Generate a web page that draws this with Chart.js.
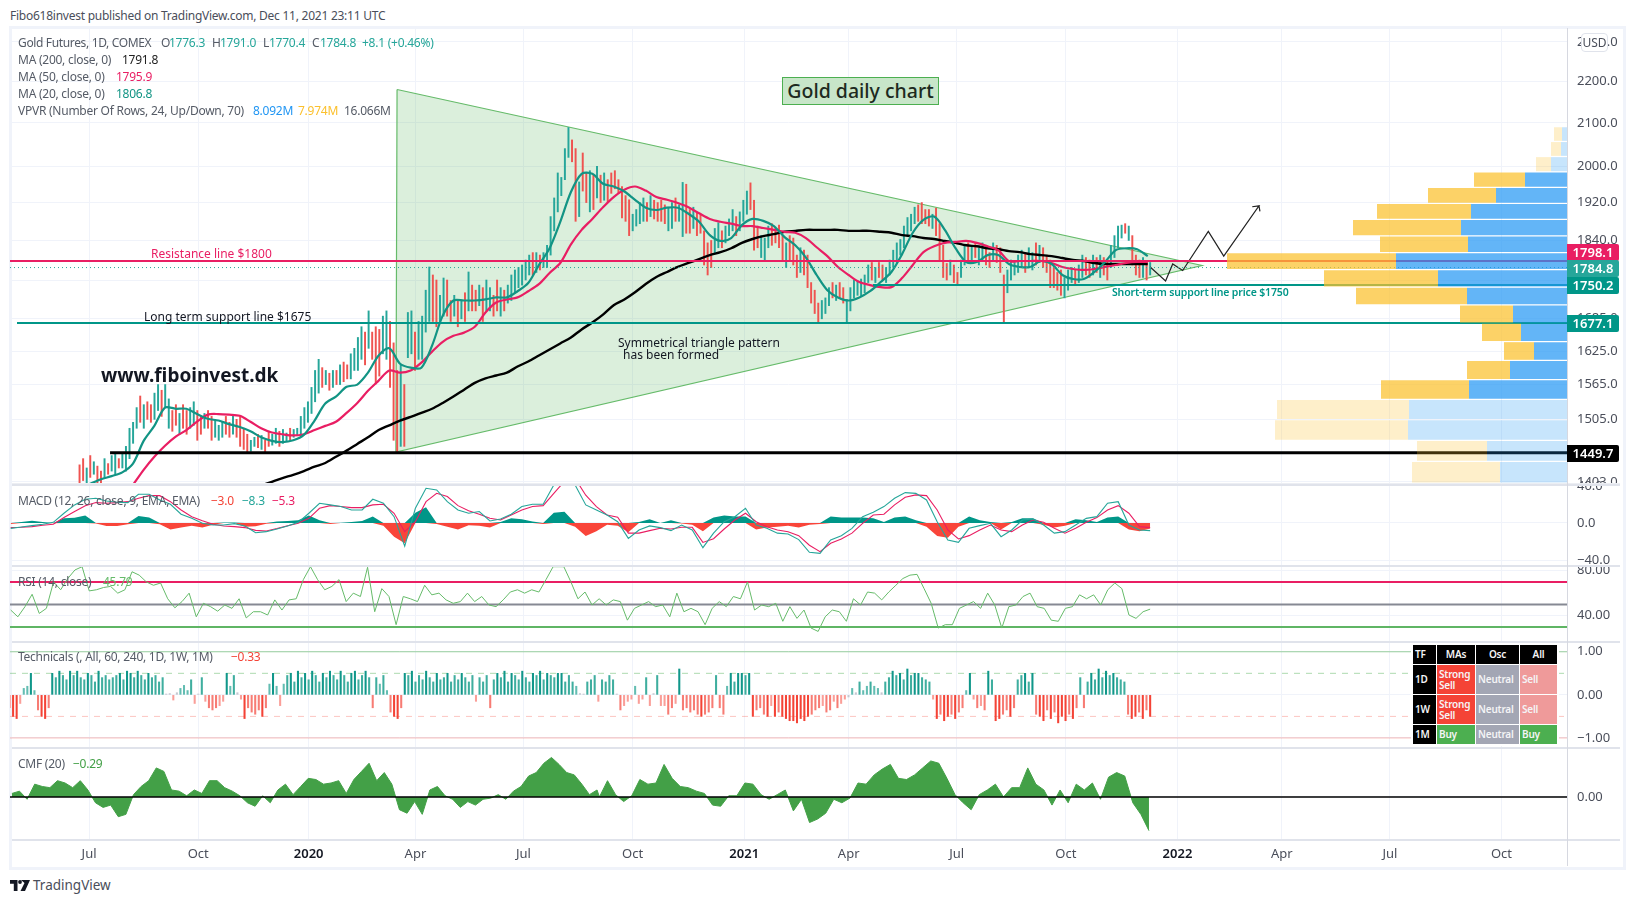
<!DOCTYPE html>
<html>
<head>
<meta charset="utf-8">
<title>Gold daily chart</title>
<script src="https://cdn.jsdelivr.net/npm/chart.js@4"></script>
<style>
html, body { margin: 0; padding: 0; background: #fff; overflow: hidden; }
#page { position: relative; width: 1633px; height: 902px; font-family: "Noto Sans", sans-serif; }
#page canvas { position: absolute; }
.t { position: absolute; white-space: nowrap; transform: translateY(-50%); font-size: 12px; letter-spacing: -.25px; color: #555b66; z-index: 5; }
.box { position: absolute; z-index: 4; }
.tag { position: absolute; left: 1567px; width: 52px; height: 17px; line-height: 17px; color: #fff; font-size: 13px; font-weight: 600; text-align: center; z-index: 6; border-radius: 0 2px 2px 0; }
.cell { position: absolute; color: #f4f4f6; font-size: 10px; letter-spacing: -.2px; line-height: 11px; font-weight: 600; box-sizing: border-box; padding-left: 2px; display: flex; align-items: center; z-index: 7; }
</style>
</head>
<body>
<div id="page"></div>
<script>
// time axis, days counted from 1 Jul 2019
const tickDays = [0, 92, 185, 275, 366, 458, 552, 640, 731, 823, 917, 1005, 1096, 1190];
const tickLabels = ['Jul', 'Oct', '2020', 'Apr', 'Jul', 'Oct', '2021', 'Apr', 'Jul', 'Oct', '2022', 'Apr', 'Jul', 'Oct'];
const lastBarDay = 894;

const priceTicks = [2300, 2200, 2100, 2000, 1920, 1840, 1760, 1685, 1625, 1565, 1505, 1403];
const macdTicks = [40, 0, -40];
const rsiTicks = [80, 40];
const techTicks = [1, 0, -1];
const cmfTicks = [0];

// price bars, one sampled every 3 days
const barHigh = [1430,1440,1425,1445,1435,1428,1420,1440,1432,1445,1450,1440,1450,
1460,1490,1500,1525,1545,1530,1535,1530,
1550,1565,1555,1565,1540,1520,1530,1515,1530,1520,
1525,1535,1520,1510,1515,1520,1510,1505,1495,1500,
1510,1500,1510,1505,1510,1490,1480,1470,1475,1480,
1478,1470,1485,1480,1490,1485,1488,1482,1490,1488,
1490,1510,1525,1535,1560,1590,1610,1595,1590,1585,
1590,1590,1600,1605,1600,1620,1630,1650,1670,1660,
1700,1660,1670,1665,1690,1700,1680,1640,1590,1600,
1565,1697,1700,1660,1680,1690,1740,1786,1770,1760,
1730,1764,1760,1720,1730,1720,1720,1735,1776,1750,
1740,1750,1745,1760,1745,1730,1760,1745,
1740,1750,1770,1780,1785,1790,1800,1810,1815,1815,1810,1815,1830,1890,1930,1985,1975,2040,2089,2060,
2040,1965,2030,1985,1990,1980,2000,1980,1985,1970,1985,1990,1970,1955,1935,1926,1895,1905,1920,1930,
1920,1935,1925,1920,1925,1915,1910,1920,1930,1915,1964,1960,1905,1910,1900,1895,1860,
1835,1840,1865,1877,1860,1870,1885,1905,1890,1900,1925,1945,1963,1925,1870,1850,1845,1870,1875,1865,
1872,1850,1835,1850,1845,1810,1825,1820,1810,1755,1740,1715,1720,1725,1745,1755,1750,1755,1745,1722,
1745,1760,1758,1762,1770,1790,1795,1785,1795,1790,1785,1800,1820,1835,1842,1870,1888,1895,1910,1915,
1920,1905,1905,1895,1908,1875,1830,1793,1800,1790,1775,1800,1830,1835,1830,1835,1825,1835,1830,1815,
1835,1830,1825,1770,1780,1800,1795,1810,1820,1815,1825,1815,1835,1830,1825,1810,1800,1785,1775,1780,
1765,1780,1785,1780,1790,1810,1805,1800,1810,1805,1810,1805,1800,1830,1850,1870,1872,1875,1870,1850,
1810,1800,1805,1795,1795];
const barLow = [1400,1405,1390,1410,1415,1400,1395,1410,1415,1420,1415,1425,1425,
1420,1440,1465,1490,1500,1490,1505,1500,
1505,1520,1510,1525,1490,1485,1495,1480,1490,1480,
1490,1495,1470,1480,1490,1490,1470,1475,1470,1475,
1480,1475,1480,1475,1460,1455,1450,1452,1460,1458,
1455,1450,1460,1462,1465,1460,1465,1468,1470,1475,
1478,1480,1490,1500,1515,1535,1550,1560,1565,1555,
1560,1565,1565,1570,1575,1575,1590,1590,1610,1600,
1630,1610,1566,1580,1620,1610,1560,1470,1450,1460,
1460,1613,1620,1590,1610,1610,1660,1680,1680,1670,
1680,1690,1690,1680,1690,1670,1685,1680,1700,1700,
1700,1710,1680,1700,1700,1690,1700,1690,
1700,1715,1720,1735,1745,1750,1760,1770,1770,1775,1780,1785,1785,1810,1860,1900,1935,1970,2020,2010,
1880,1890,1945,1920,1900,1905,1930,1920,1925,1920,1940,1950,1940,1887,1880,1850,1860,1870,1875,1880,
1880,1890,1885,1880,1880,1875,1860,1865,1880,1880,1848,1855,1855,1865,1850,1855,1790,
1770,1785,1815,1825,1825,1835,1850,1860,1850,1860,1880,1895,1905,1820,1825,1805,1800,1825,1830,1835,
1825,1800,1785,1800,1790,1765,1775,1770,1745,1715,1695,1677,1685,1695,1710,1725,1720,1725,1715,1678,
1700,1725,1730,1728,1735,1755,1760,1755,1765,1760,1755,1770,1785,1795,1810,1825,1850,1860,1875,1880,
1875,1875,1870,1865,1850,1800,1765,1760,1770,1755,1750,1765,1790,1795,1795,1805,1790,1800,1790,1785,
1800,1795,1775,1677,1735,1760,1770,1775,1785,1775,1785,1780,1790,1795,1785,1775,1745,1745,1740,1730,
1725,1740,1755,1750,1755,1765,1770,1765,1770,1775,1765,1770,1760,1785,1805,1825,1845,1855,1840,1790,
1770,1765,1765,1760,1770];
const barDir = ('ddududdudu' + 'uduuuuudud' + 'duuduuddud' + 'duuddudduu' + 'uddudddduu' +
'dudduuduud' + 'uuuuuuuudu' + 'dududduuuu' + 'duddduuddd' + 'uduuduuuud' +
'duuddududu' + 'dduduuddud' + 'uuuuuuudud' + 'uuuuuuuudd' + 'uddudududd' +
'ddddduuuud' + 'udddduuduu' + 'dduddddduu' + 'duuuduuudd' + 'duuuddddud' +
'dduddddduu' + 'ududduuuuu' + 'uududduuuu' + 'uuuuuddddu' + 'ddddudduud' +
'uduudduddd' + 'uuuuuduudu' + 'dddddduuud' + 'uuddududdu' + 'uuududddud' + 'u').split('');

const ma20 = [1395,1400,1407,1412,1418,1432,1469,1494,1525,1523,1523,1514,1506,1503,1497,1492,1485,1475,1469,1467,
1470,1479,1503,1532,1544,1561,1565,1586,1617,1630,1602,1595,1595,1635,1691,1720,1720,1720,1722,1726,
1726,1738,1754,1790,1824,1879,1943,1983,1983,1961,1955,1944,1926,1909,1904,1909,1909,1896,1879,1851,
1839,1845,1872,1885,1881,1870,1847,1830,1805,1770,1740,1726,1720,1726,1738,1756,1776,1812,1856,1883,
1890,1862,1824,1796,1796,1810,1810,1792,1786,1786,1798,1792,1770,1762,1762,1776,1796,1820,1824,1822,1808];
const ma50 = [null,null,null,null,null,1398,1422,1443,1461,1476,1487,1501,1513,1514,1513,1511,1501,1490,1483,1480,
1478,1480,1487,1494,1501,1516,1533,1554,1572,1590,1586,1590,1604,1624,1642,1653,1659,1670,1697,1716,
1722,1726,1738,1752,1774,1794,1832,1862,1885,1910,1932,1948,1955,1946,1932,1926,1919,1910,1897,1885,
1879,1875,1870,1870,1866,1862,1858,1856,1845,1826,1808,1786,1770,1756,1750,1746,1746,1764,1790,1816,
1828,1835,1837,1839,1835,1828,1820,1798,1798,1798,1798,1794,1786,1782,1780,1782,1786,1790,1794,1796,1796];
const ma200 = [null,null,null,null,null,null,null,null,null,null,null,null,null,null,null,null,null,1397,1403,1409,
1414,1420,1427,1433,1443,1453,1464,1475,1487,1495,1503,1509,1516,1523,1533,1544,1556,1568,1576,1581,
1586,1597,1606,1617,1628,1639,1650,1665,1678,1693,1711,1722,1736,1752,1766,1776,1786,1794,1802,1810,
1816,1824,1835,1843,1849,1853,1858,1860,1862,1862,1862,1862,1860,1860,1860,1858,1856,1851,1849,1845,
1843,1839,1835,1830,1828,1824,1822,1818,1816,1812,1810,1808,1804,1800,1798,1794,1792,1792,1792,1792,1792];

// drawn levels and shapes, in price and day
const resistance = 1798.1, lastClose = 1784.8, shortSupport = 1750.2, longSupport = 1677.1, baseLine = 1449.7;
const triangleDays = [259.5, 937.7, 258.5, 259.5];
const trianglePrices = [2180, 1789, 1450.7, 2180];
const pathDays = [894, 907, 913, 921.4, 943, 956, 985.7, 980, 985.7, 986.5];
const pathPrices = [1786, 1758, 1792, 1779, 1859, 1808, 1913, 1911, 1913, 1901];

// volume profile rows, from the top
const vpvrEdges = [2091,2056.5,2022,1987.5,1953,1918.5,1884,1849.5,1815,1780.5,1746,1711.5,1677,1642.5,1608,1573.5,1539,1504.5,1470,1435.5,1401,1396];
const vpvrUp = [5,6,16,42,71,96,106,99,171,129,100,54,46,33,57,98,158,159,80,67,29];
const vpvrDown = [8,10,15,51,68,94,108,88,169,114,111,53,39,30,43,88,132,133,70,88,22];

const macdLine = [-5.8,-4.3,-2.9,-1.4,.7,10.5,19.5,25.6,26.7,23.8,
22.3,22,31,31,24.9,20.2,9.4,5,-.4,-2.2,
-2.2,-.7,-3.2,-10.5,-9.4,-6.5,-3.2,.7,10.5,21.3,
19.5,17.7,14,14,25.6,21.3,6.8,-25,15.9,37.5,
35.7,23,14,10.5,12.3,2.2,4.3,9.4,17.7,20.2,
20.2,41,50,41,19.5,14,8.6,1.4,-16.6,-7.6,
-3.2,-5,-8.3,-2.2,-7.6,-26.7,-11,1.4,6.8,15.9,
-2.2,-5.8,-11,-12,-18,-31.7,-32.8,-18.4,-13.7,-5.8,
6.8,11.5,17.7,26.7,32.8,32,24.9,1.4,-18.4,-21,
-5.8,-2.9,-.4,-14.8,-7.6,3.2,4.3,-2.2,-11,-9.4,
-2.2,5,6.8,21.3,23,-2.2,-7.6,-8.3];
const macdSignal = [-5,-4.7,-4,-2.5,-1.4,5.8,12.3,18.7,22,21.3,
22,23,26.7,29.5,29.5,23,14,6.8,2.5,-1.4,
-3.2,-4,-5,-8,-8.6,-6,-3,-.4,5,15.9,
18.7,17.7,16.6,16.6,19.5,20.2,10.5,-9.4,1.4,23,
32,28.5,18.7,13.3,9.4,5,3.2,8.6,14,17.7,
18.7,32,45,48,30,17.7,8.6,6.1,-11,-11,
-8.3,-5.8,-6.5,-4.7,-4.7,-21,-17,-6.5,3.2,10.5,
1.4,-4,-7.6,-9.4,-13.7,-24,-31,-22,-17.3,-11,
-.4,8.6,9.4,19.5,27.7,30.3,29.5,14,-7.6,-17.3,
-13.7,-7.6,-2.2,-7.6,-9.4,-2.2,3.2,.7,-5.8,-11,
-5.8,.7,5.8,14,18.7,10.5,-4,-5];
const macdHist = [-1,1,2.5,1,-.4,5,5.5,8,-.5,-3.2,
-3.2,-1.5,7.5,6,-1.5,-7,-5,-3,-5,-2,
.5,.5,-4,-3.5,-.8,1.5,2,3,8,3,
-1,.3,1,2,7,-3,-15,-22,11,17,
-1,-4,-7,-2.5,-3,-5,1,5,4,1.5,
-1,11,12,-4,-14,-9,-2,-3,-10,1,
4,0,3,-.5,-2,-9,6,8,7,7,
-7,-5,-4,-3,-5,-2,-1,7,6,6,
6,5,1,6,7,3,-4,-14,-16,-4,
7,3,1,-7,1,5,5,-2,-5,-3,
4,3,1,6,7,-7,-9,-6];

const rsiA = [45,39,48,59,42,46.5,70,63,73,80.6,83.5,62,63,65,66,60,63,79,76,70,67,69,55,47,52.5,60,39,51,48,44,49.5,46.5,55,38,43.5,43.5,40.6,54,45,54,55,72,83.5,72,63,66,72,52.5,60,57,83,43.5,64,57,32,57,55,52.5,67,58.5,60,54,51,52.5,60,52.5,57,49.5,48,54,61,63,60,63,61,72,83.5];
const rsiB = [83.5,70,55,61,49.5,55,49.5,54,52.5,36,46.5,49.5,52.5,48,49.5,39,60,43.5,46.5,43.5,32,46.5,52.5,48,57,55,70,45,49.5,48,51,35,48,37.6,45,29,26,39,45,43.5,35,55,49.5,61,60,54,61,67,73,76,76.7,64,51,29,32,32,46.5,49.5,52.5,46.5,60,49.5,29,48,49.5,57,60,48,46.5,36,35,46.5,48,58.5,55,58.5,49.5,63,69,64,40.6,37.6,43.5,45.79];
const rsiLevels = [70, 50, 30];

const techA = [-.3,-.5,-.55,-.2,.15,.2,.5,.1,-.35,-.5,-.55,-.3,
.5,.4,.55,.45,.35,.55,.45,.55,.4,.35,.5,.45,.3,.55,.4,.45,.35,.4,.45,.5,.35,.55,.5,.4,.55,.45,.35,.5,.4,.45,.3,.4,
.02,.03,-.12,.05,.15,.22,.1,.35,-.2,.02,.4,-.15,-.3,-.35,-.3,-.25,-.15,.5,.2,.45,.05,
-.1,-.55,-.3,-.4,-.45,-.35,-.5,-.3,.25,.5,.2,-.25,.25,
.45,.5,.3,.55,.4,.5,.35,.55,.45,.3,.5,.4,.55,.45,.35,.55,.45,.3,.5,.55,.35,.45,.55,.4,-.3,
.4,.25,.45,.1,-.4,-.5,-.55,-.3,
.5,.45,.55,.3,.45,.35,.55,.4,.3,.5,.35,.4,.5,.3,.45,.35,.5,.4,.3,.45,-.15,
.4,.3,.45,-.3,.35,.5,.4,.55,.3,.5,.45,.35,.55,.4,.3,.5,.45,.55,.35,.5,.45,.4];
const techB = [.5,.5,.3,.45,.3,.2,.03,.02,.3,.35,.45,-.15,.35,.3,.45,.35,.02,-.35,-.25,-.15,-.1,.2,-.2,-.1,.4,-.25,.03,.45,
-.25,-.25,-.45,-.3,-.2,.6,-.35,-.3,-.4,-.35,-.45,-.5,-.45,-.4,-.3,.45,-.3,-.45,.2,.5,.3,.5,.5,.45,.5,
-.5,-.35,-.3,-.45,-.5,-.25,-.5,-.4,-.5,-.55,-.6,-.6,-.65,-.55,-.6,-.5,-.45,-.35,-.3,-.25,-.4,-.35,-.15,-.3,-.2,-.1,-.05,
.15,.05,.3,.1,.2,.3,.2,.15,.05,.3,.4,.55,.45,.5,.35,.6,.45,.5,.5,.4,.35,.3,
-.1,-.55,-.45,-.6,-.5,-.45,-.55,-.4,-.3,.1,.5,-.1,-.3,-.25,-.35,.55,.35,-.6,-.55,-.45,-.35,-.5,-.3,
.35,.45,.5,.3,.5,-.45,-.5,-.6,-.35,-.55,-.4,-.65,-.5,-.6,-.45,-.55,-.3,.4,-.3,
.3,.5,.35,.6,.4,.55,.45,.5,.4,.35,.3,-.45,-.55,-.5,-.4,-.55,-.35,-.5];
const techLevels = [1, .5, -.5, -1];

const cmfA = [.03,.05,-.02,.11,.09,.08,.14,.12,.08,.14,.06,-.05,-.09,-.07,-.17,-.15,.02,.09,.14,.25,.22,.06,.05,.01,.06,.03,.14,.14,.08,.05,.01,-.05,-.08,.01,-.05,.06,.11,.02,.09,.16,.15,.11,.12,.14,.03,.15,.22,.29,.14,.21,.11,-.11,-.14,-.04,-.15,.06,.09,.01,-.02,-.09,-.04,-.07,-.02,-.01,.02,-.02,.05,.09,.18,.21,.29,.34,.28,.21,.19,.11,.02,.06];
const cmfB = [0,.14,.02,-.04,.01,.15,.11,.12,.28,.16,.09,.08,.05,.03,-.07,-.08,.01,.01,.12,.11,.02,-.02,.02,.06,-.12,-.02,-.22,-.19,-.14,-.02,-.05,-.01,.12,.11,.19,.24,.28,.16,.15,.19,.25,.31,.29,.16,.02,-.05,-.11,.02,.06,.11,0,.08,.08,.25,.11,.06,-.07,.06,-.05,.11,.06,.12,-.02,.17,.21,.18,-.05,-.15,-.29];

// ---------- drawing ----------
const FONT = '"Noto Sans", sans-serif';
const GRID = '#f0f3fa';
const TEAL = '#26a69a', RED = '#ef5350', PINK = '#e91e63', MA_TEAL = '#129484', LEVEL_TEAL = '#009688';
const X_MIN = -66.6, X_MAX = 1245.2;
const page = document.getElementById('page');
Chart.defaults.animation = false;

function spread(n, from, to) {
    const out = [];
    for (let i = 0; i < n; i++) out.push(from + (to - from) * i / (n - 1));
    return out;
}
function pts(days, vals) { return vals.map((v, i) => ({ x: days[i], y: v })); }

function line(data, color, width, extra) {
    return Object.assign({ type: 'line', data: data, borderColor: color, borderWidth: width, pointRadius: 0, fill: false, tension: 0, order: 5 }, extra || {});
}
function flat(value, from, to, color, width, extra) {
    return line([{ x: from, y: value }, { x: to, y: value }], color, width, extra);
}

function xAxis(showLabels) {
    return {
        type: 'linear', min: X_MIN, max: X_MAX, offset: false,
        grid: { color: GRID, drawTicks: false, offset: false },
        border: { display: false },
        afterBuildTicks(s) { s.ticks = tickDays.map(v => ({ value: v })); },
        afterFit(s) { s.height = showLabels ? 28 : 0; s.paddingLeft = 0; s.paddingRight = 0; },
        ticks: {
            display: showLabels, autoSkip: false, maxRotation: 0, padding: 7,
            callback: v => tickLabels[tickDays.indexOf(v)],
            color: c => (tickLabels[c.index] || '').length === 4 ? '#131722' : '#4a4e5a',
            font: c => ({ family: FONT, size: 13, weight: (tickLabels[c.index] || '').length === 4 ? '600' : '400' })
        }
    };
}
function yAxis(ticks, min, max, digits, type) {
    return {
        type: type || 'linear', position: 'right', min: min, max: max,
        grid: { color: GRID, drawTicks: false },
        border: { display: false },
        afterBuildTicks(s) { s.ticks = ticks.map(v => ({ value: v })); },
        afterFit(s) { s.width = 56; s.paddingTop = 0; s.paddingBottom = 0; },
        ticks: {
            autoSkip: false, padding: 10, color: '#4a4e5a', font: { family: FONT, size: 13 },
            callback: v => v.toFixed(digits).replace('-', '\u2212')
        }
    };
}
function pane(top, height, padTop, padBottom, datasets, y, showLabels, extraScales) {
    const c = document.createElement('canvas');
    const total = height + padTop + padBottom + (showLabels ? 28 : 0);
    c.width = 1613; c.height = total;
    c.style.left = '10px'; c.style.top = (top - padTop) + 'px';
    c.style.width = '1613px'; c.style.height = total + 'px';
    page.appendChild(c);
    new Chart(c, {
        type: 'line',
        data: { datasets: datasets },
        options: {
            responsive: false, animation: false, devicePixelRatio: 1,
            layout: { padding: { top: padTop, bottom: padBottom, left: 0, right: 0 } },
            plugins: { legend: { display: false }, tooltip: { enabled: false } },
            scales: Object.assign({ x: xAxis(showLabels), y: y }, extraScales || {})
        }
    });
}

function box(x, y, w, h, css) {
    const d = document.createElement('div');
    d.className = 'box';
    d.style.cssText = 'left:' + x + 'px;top:' + y + 'px;width:' + w + 'px;height:' + h + 'px;' + (css || '');
    page.appendChild(d);
    return d;
}
function text(str, x, y, color, css) {
    const d = document.createElement('div');
    d.className = 't';
    d.textContent = str;
    d.style.left = x + 'px';
    d.style.top = y + 'px';
    if (color) d.style.color = color;
    if (css) d.style.cssText += css;
    page.appendChild(d);
}
function tag(str, center, color) {
    const d = document.createElement('div');
    d.className = 'tag';
    d.textContent = str;
    d.style.top = (center - 8.5) + 'px';
    d.style.background = color;
    page.appendChild(d);
}

// frame and pane separators
box(9, 26, 1611, 838, 'border:3px solid #f0f3fa;z-index:0');
[484, 565, 641, 747, 839].forEach(y => box(12, y, 1608, 1.5, 'background:#e0e3eb;z-index:3'));
box(12, 483, 1608, 1, 'background:#eceef3;z-index:3');
box(1567, 28, 1, 838, 'background:#d6d8e0;z-index:3');

// main pane
const barDays = spread(barHigh.length, -8, lastBarDay);
const candleData = barHigh.map((h, i) => ({ x: barDays[i], y: [barLow[i], h] }));
const maDays = spread(ma20.length, -8, 892);
const rowFaded = [0, 1, 2, 16, 17, 18, 19, 20];
const mainSets = [];
vpvrUp.forEach((up, i) => {
    const top = vpvrEdges[i] * 0.9993, bot = vpvrEdges[i + 1] * 1.0007, down = vpvrDown[i];
    const faded = rowFaded.includes(i);
    const shape = (a, b, color) => ({
        type: 'line', xAxisID: 'xVol', pointRadius: 0, borderWidth: 0, fill: 'shape', backgroundColor: color, order: 1,
        data: [{ x: a, y: bot }, { x: b, y: bot }, { x: b, y: top }, { x: a, y: top }]
    });
    mainSets.push(shape(0, up, faded ? 'rgba(33,150,243,.25)' : 'rgba(33,150,243,.7)'));
    mainSets.push(shape(up, up + down, faded ? 'rgba(251,192,45,.25)' : 'rgba(251,192,45,.72)'));
});
mainSets.push(
    line(pts(maDays, ma20), MA_TEAL, 2.2, { tension: .3, order: 3 }),
    line(pts(maDays, ma50), PINK, 2.2, { tension: .3, order: 3 }),
    line(pts(maDays, ma200), '#000', 2.4, { tension: .3, order: 4 }),
    flat(resistance, X_MIN, X_MAX, PINK, 2, { order: 2 }),
    flat(lastClose, X_MIN, X_MAX, TEAL, 1, { borderDash: [1, 3], order: 2 }),
    flat(shortSupport, 660.5, X_MAX, LEVEL_TEAL, 2, { order: 2 }),
    flat(longSupport, -60.7, X_MAX, LEVEL_TEAL, 2, { order: 2 }),
    flat(baseLine, 17.7, X_MAX, '#000', 3, { order: 2 }),
    line(pts(pathDays, pathPrices), '#222', 1.2, { order: 2 }),
    {
        type: 'bar', data: candleData, barThickness: 1.3, grouped: false, order: 6,
        backgroundColor: barHigh.map((h, i) => barDir[i] === 'u' ? TEAL : RED)
    },
    line(pts(triangleDays, trianglePrices), '#66bb6a', 1.2, { fill: 'shape', backgroundColor: 'rgba(76,175,80,.2)', order: 8 })
);
pane(28, 457, 0, 0, mainSets, yAxis(priceTicks, 1398, 2336, 1, 'logarithmic'), false, {
    xVol: { type: 'linear', display: false, reverse: true, min: 0, max: 1557 }
});

// MACD
const macdDays = spread(macdLine.length, -66, lastBarDay);
pane(485, 80, 8, 8, [
    line(pts(macdDays, macdLine), TEAL, 1.1, { order: 1 }),
    line(pts(macdDays, macdSignal), PINK, 1.1, { order: 1 }),
    line(pts(macdDays, macdHist.map(v => Math.max(v, 0))), '#009688', 0, { fill: 'origin', backgroundColor: '#009688', order: 2 }),
    line(pts(macdDays, macdHist.map(v => Math.min(v, 0))), RED, 0, { fill: 'origin', backgroundColor: '#f9453a', order: 2 })
], yAxis(macdTicks, -45.4, 41, 1), false);

// RSI
const rsiDays = spread(rsiA.length, -66, 391).concat(spread(rsiB.length, 400, lastBarDay));
const rsiColors = [PINK, '#868993', '#5fb564'];
pane(565, 76, 8, 8, [
    line(pts(rsiDays, rsiA.concat(rsiB)), '#66bb6a', 1, { order: 1 })
].concat(rsiLevels.map((v, i) => flat(v, X_MIN, X_MAX, rsiColors[i], 2, { order: 2 }))),
    yAxis(rsiTicks, 17.5, 85, 2), false);

// technicals
const techDays = spread(techA.length, -67, 392).concat(spread(techB.length, 395, lastBarDay));
const techAll = techA.concat(techB);
function techColor(v) {
    if (Math.abs(v) < .08) return '#c5c7d0';
    if (v > 0) return v >= .5 ? '#10978a' : v >= .3 ? '#3fae9f' : '#63bdb2';
    return v <= -.5 ? '#f44336' : v <= -.3 ? '#f77c74' : '#fa9e98';
}
const techStyle = [['rgba(76,175,80,.55)', []], ['rgba(76,175,80,.45)', [6, 6]], ['rgba(244,67,54,.3)', [6, 6]], ['rgba(244,67,54,.35)', []]];
pane(641, 106, 8, 8, [
    { type: 'bar', data: pts(techDays, techAll), barThickness: 1.4, grouped: false, order: 1, backgroundColor: techAll.map(techColor) }
].concat(techLevels.map((v, i) => flat(v, X_MIN, X_MAX, techStyle[i][0], 1, { borderDash: techStyle[i][1], order: 2 }))),
    yAxis(techTicks, -1.21, 1.25, 2), false);

// CMF
const cmfDays = spread(cmfA.length, -65, 428).concat(spread(cmfB.length, 430, 893));
pane(747, 92, 8, 0, [
    flat(0, X_MIN, X_MAX, '#000', 1.5, { order: 1 }),
    line(pts(cmfDays, cmfA.concat(cmfB)), '#43a047', 1, { fill: 'origin', backgroundColor: '#43a047', order: 2 })
], yAxis(cmfTicks, -.362, .43, 2), true);

// header
text('Fibo618invest published on TradingView.com, Dec 11, 2021 23:11 UTC', 10, 15, '#4a4e5a');

// indicator titles
text('Gold Futures, 1D, COMEX', 18, 42, null, 'letter-spacing:-.35px;');
[['O', 161], ['H', 212], ['L', 263], ['C', 312]].forEach(p => text(p[0], p[1], 42));
[['1776.3', 169], ['1791.0', 220], ['1770.4', 269], ['1784.8', 320], ['+8.1 (+0.46%)', 362]].forEach(p => text(p[0], p[1], 42, TEAL));
text('MA (200, close, 0)', 18, 59); text('1791.8', 122, 59, '#222');
text('MA (50, close, 0)', 18, 76); text('1795.9', 116, 76, PINK);
text('MA (20, close, 0)', 18, 93); text('1806.8', 116, 93, MA_TEAL);
text('VPVR (Number Of Rows, 24, Up/Down, 70)', 18, 110);
text('8.092M', 253, 110, '#2196f3'); text('7.974M', 298, 110, '#fbc02d'); text('16.066M', 344, 110, '#555b66');
text('MACD (12, 26, close, 9, EMA, EMA)', 18, 500);
text('\u22123.0', 211, 500, '#f44336'); text('\u22128.3', 242, 500, TEAL); text('\u22125.3', 272, 500, PINK);
text('RSI (14, close)', 18, 581); text('45.79', 103, 581, '#66bb6a');
text('Technicals (, All, 60, 240, 1D, 1W, 1M)', 18, 656); text('\u22120.33', 231, 656, '#f44336');
text('CMF (20)', 18, 763); text('\u22120.29', 73, 763, '#43a047');

// chart notes
const title = box(782, 77, 157, 28, 'box-sizing:border-box;background:#c8e6c9;border:1px solid #4caf50;color:#1d2a1e;font-size:19.5px;font-weight:500;text-align:center;line-height:25px');
title.textContent = 'Gold daily chart';
text('www.fiboinvest.dk', 101, 375, '#131722', 'font-size:19px;font-weight:700;letter-spacing:0;');
text('Resistance line $1800', 151, 253, PINK, 'letter-spacing:0;');
text('Long term support line $1675', 144, 316, '#131722', 'letter-spacing:0;');
text('Symmetrical triangle pattern', 618, 342, '#131722', 'letter-spacing:0;');
text('has been formed', 623, 354, '#131722', 'letter-spacing:0;');
text('Short-term support line price $1750', 1112, 292, LEVEL_TEAL, 'font-size:10.5px;font-weight:600;letter-spacing:-.15px;');

// price tags
tag('1798.1', 252, PINK);
tag('1784.8', 268.5, TEAL);
tag('1750.2', 285, LEVEL_TEAL);
tag('1677.1', 323, LEVEL_TEAL);
tag('1449.7', 453, '#000');
const usd = box(1581, 33, 27, 19, 'box-sizing:border-box;background:#fff;border:1px solid #e0e3eb;border-radius:4px;font-size:12px;line-height:17px;text-align:center;color:#4a4e5a;z-index:6');
usd.textContent = 'USD';

// technicals table
box(1411, 643, 148, 103, 'background:#fff;z-index:6');
const colX = [[1413, 23], [1437, 38], [1476, 43], [1520, 37]];
const rowY = [[645, 19], [665, 29], [695, 29], [725, 19]];
const BK = '#000', SR = '#f44336', GY = '#a3a6b4', PK = '#ef9a9a', GN = '#4caf50';
const tableText = [['TF', 'MAs', 'Osc', 'All'], ['1D', 'Strong Sell', 'Neutral', 'Sell'], ['1W', 'Strong Sell', 'Neutral', 'Sell'], ['1M', 'Buy', 'Neutral', 'Buy']];
const tableFill = [[BK, BK, BK, BK], [BK, SR, GY, PK], [BK, SR, GY, PK], [BK, GN, GY, GN]];
tableText.forEach((row, r) => row.forEach((str, c) => {
    const d = document.createElement('div');
    d.className = 'cell';
    d.textContent = str;
    d.style.cssText = 'left:' + colX[c][0] + 'px;top:' + rowY[r][0] + 'px;width:' + colX[c][1] + 'px;height:' + rowY[r][1] + 'px;background:' + tableFill[r][c] + ';' + (r === 0 && c > 0 ? 'justify-content:center;padding-left:0;' : '');
    page.appendChild(d);
}));

// logo
const logo = document.createElement('div');
logo.innerHTML = '<svg width="20" height="11" viewBox="0 0 20 11" style="position:absolute;left:10px;top:880px"><path d="M0 0h7.500v11H3.800V3.700H0z M11 0h3 L20 0 L15 11 H10.500 L14.500 3z" fill="#131722"/><circle cx="10" cy="2" r="1.900" fill="#131722"/></svg>';
page.appendChild(logo);
text('TradingView', 33, 885, '#4a4e5a', 'font-size:13.5px;letter-spacing:0;');
</script>
</body>
</html>
